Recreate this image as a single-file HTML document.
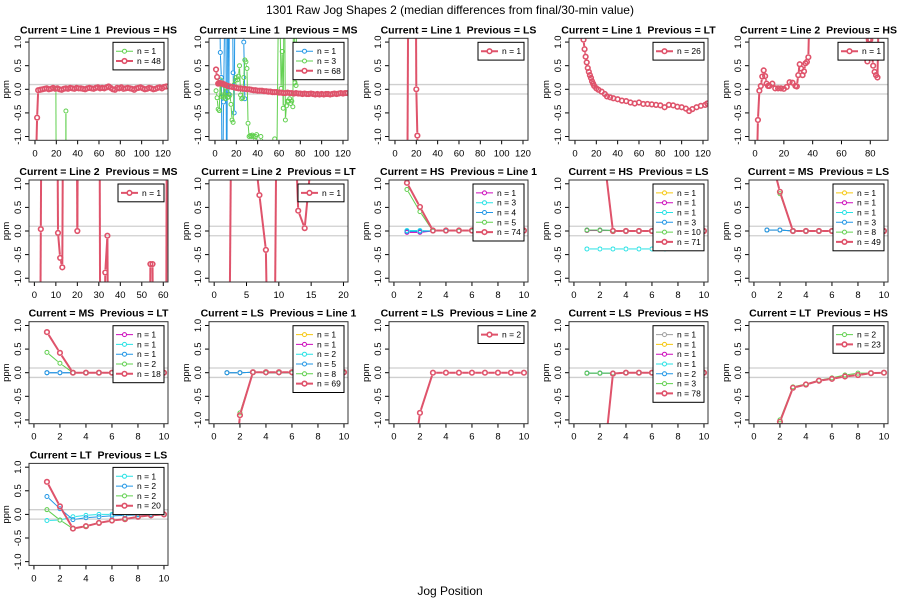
<!DOCTYPE html>
<html><head><meta charset="utf-8"><style>
html,body{margin:0;padding:0;background:#fff;overflow:hidden;width:900px;height:600px;}
svg{display:block;}
svg text{font-family:"Liberation Sans",sans-serif;}
</style></head><body>
<svg id="chart" width="900" height="600" viewBox="0 0 900 600" xmlns="http://www.w3.org/2000/svg" overflow="hidden">
<rect width="900" height="600" fill="#fff"/>
<text x="450" y="14" font-size="12" text-anchor="middle">1301 Raw Jog Shapes 2 (median differences from final/30-min value)</text>
<text x="450" y="595" font-size="12" text-anchor="middle">Jog Position</text>
</svg>
<script>
const RED="#DF536B",GREEN="#61D04F",BLUE="#2297E6",CYAN="#28E2E5",MAG="#CD0BBC",YEL="#F5C710",GRAY="#9E9E9E";
const x10=[1,2,3,4,5,6,7,8,9,10];
// Panel 1: Line 1 / HS
const p1RedX=[1,2,3,5,7,9,11,13,15,17,19,21,23,25,27,29,31,33,35,37,39,41,43,45,47,49,51,53,55,57,59,61,63,65,67,69,71,73,75,77,79,81,83,85,87,89,91,93,95,97,99,101,103,105,107,109,111,113,115,117,119,121,123];
const p1RedY=[-1.5,-0.6,-0.02,-0.01,0,0.01,0.02,0,0.01,0.03,0.01,0.02,0,-0.01,0.01,0.02,0.01,0.03,0.02,0.01,0.03,0.02,0.02,0.01,0,0.02,0.03,0.02,0.01,0.03,0.04,0.02,0.03,0.02,0.04,0.06,0.03,0,-0.01,0.03,0.02,0.04,0.01,0.02,0.03,0.02,0.01,-0.01,0.02,0.03,0.04,0.02,0,0.01,0.03,0.02,0,0.01,0.03,0.04,0.02,0.05,0.06];
const p1GreenX=[19.6,20,28.7,29,29.3];
const p1GreenY=[0,-3,-3,-0.46,-3];
// Panel 2: Line 1 / MS
const p2RedX=[1,2,3,4,5,6,7,8,9,10,12,14,16,18,20,22,24,26,28,30,32,34,36,38,40,42,44,46,48,50,52,54,56,58,60,62,64,66,68,70,72,74,76,78,80,82,84,86,88,90,92,94,96,98,100,102,104,106,108,110,112,114,116,118,120,122,124];
const p2RedY=[0.42,0.26,0.12,0.13,0.13,0.12,0.12,0.11,0.1,0.09,0.07,0.06,0.05,0.04,0.03,0.02,0.02,0.01,0.01,0,0,-0.01,-0.02,-0.02,-0.03,-0.03,-0.03,-0.04,-0.04,-0.05,-0.05,-0.06,-0.06,-0.06,-0.07,-0.07,-0.08,-0.08,-0.07,-0.08,-0.08,-0.09,-0.08,-0.09,-0.09,-0.1,-0.09,-0.1,-0.1,-0.09,-0.1,-0.11,-0.1,-0.11,-0.1,-0.11,-0.1,-0.1,-0.11,-0.1,-0.09,-0.1,-0.09,-0.08,-0.09,-0.08,-0.08];
const p2BlueX=[4,5,6,7,8,10,11,12,13,14,16,17,18,19,26,27,28];
const p2BlueY=[3,0.78,0.25,-3,-0.27,3,-3,3,-0.1,3,3,0.35,-0.5,3,3,1.0,-0.2];
const p2GreenX=[1,2,3,4,5,6,7,8,9,10,11,12,13,14,15,16,17,18,19,20,21,22,23,24,25,26,27,28,29,30,31,32,33,34,35,36,37,38,39,40,41,42,43,55,56,58,60,62,63,64,65,66,67,68,69,70,71,72,73,74,75,76,77,78,79];
const p2GreenY=[-0.03,-0.18,-0.42,-0.45,0.2,-0.15,-0.12,-0.17,0.07,-0.2,-0.05,-0.17,-0.16,-0.12,-0.32,-0.65,-0.7,0.1,0.19,0.25,0.2,0.28,0.5,-0.12,-0.2,-0.18,0.25,0.62,0.58,0.44,-0.72,-1.0,-0.98,-1.0,-0.97,-1.0,-1.5,-1.0,-0.96,-1.5,-1.5,-1.5,-1.0,-1.5,-1.05,-1.5,3,0.02,0.8,-0.4,3,-0.65,-0.35,-0.25,-0.25,-0.2,-0.3,-0.25,-0.37,3,0.14,0.08,3,3,3];
// Panel 3: Line 1 / LS
const p3RedX=[11,13,19,20,21,22];
const p3RedY=[-5,5,5,0,-0.98,-5];
// Panel 4: Line 1 / LT
const p4RedX=[5,8,9,10,11,12,13,14,15,16,17,18,20,22,25,28,30,33,36,40,44,48,52,56,60,64,68,72,76,80,84,88,92,96,100,104,107,110,114,118,122,124];
const p4RedY=[2,1.05,0.85,0.69,0.57,0.45,0.37,0.3,0.24,0.17,0.12,0.07,0.02,-0.01,-0.05,-0.1,-0.15,-0.17,-0.19,-0.21,-0.24,-0.25,-0.28,-0.3,-0.28,-0.31,-0.31,-0.32,-0.33,-0.34,-0.38,-0.33,-0.34,-0.37,-0.38,-0.41,-0.46,-0.42,-0.38,-0.35,-0.33,-0.3];
// Panel 5: Line 2 / HS
const p5RedX=[1,2,3,4,5,6,7,8,9,10,12,14,16,18,20,22,24,26,28,29,30,31,32,33,34,35,36,37,38,77,78,79,80,82,83,84,85,86];
const p5RedY=[-2,-0.65,-0.03,0.07,0.27,0.4,0.28,0.12,0.07,0.07,0.12,0.02,0.02,0.02,0.01,0.05,0.15,0.14,0.07,0.06,0.3,0.53,0.44,0.3,0.38,0.55,0.58,0.68,2,2,0.59,1.05,1.05,0.5,0.37,0.3,0.25,2];
// Panel 6: Line 2 / MS
const p6RedX=[2,3,4,10,11,12,13,14,19,20,21,30,31,33,34,35,53,54,55,56,61,62];
const p6RedY=[-9,0.04,9,9,-0.04,-0.57,-0.77,9,9,0.0,9,9,-9,-0.88,-0.1,-9,-9,-0.7,-0.7,-9,-9,9];
// Panel 7: Line 2 / LT
const p7RedX=[2,3,6,7,8,9,10,12,13,14,15];
const p7RedY=[-9,9,2,0.76,-0.4,-9,9,4,0.43,0.06,1.5];
// Panel 8: HS / Line 1
const p8MagY=[-0.03,-0.03,0,0,0,0,0,0,0,0];
const p8CyanY=[0.01,0.01,0,0,0,0,0,0,0,0];
const p8BlueY=[-0.01,-0.01,0,0,0,0,0,0,0,0];
const p8GreenY=[0.88,0.41,0,0.01,0,0,0,0,0,0];
const p8RedY=[1.02,0.51,0.01,0.01,0.01,0.01,0.01,0.01,0.01,0.01];
// Panel 9: HS / LS
const p9YelY=[0.01,0.01,0.01,0,0,0,0,0,0,0];
const p9CyanY=[-0.38,-0.38,-0.38,-0.38,-0.38,-0.38,-0.38,null,null,null];
const p9BlueY=[0.02,0.02,0.01,0,0,0,0,0,0,0];
const p9RedY=[null,2.3,0,0,0,0,0,0,0,0];
// Panel 10: MS / LS
const p10BlueY=[0.02,0.02,0,0,0,0,0,0,0,0];
const p10GreenY=[null,0.79,0,0,0,0,0,0,0,0];
const p10RedY=[1.9,0.83,0,0,0,0,0,0,0,0];
// Panel 11: MS / LT
const p11MagY=[0,0,0,0,0,0,0,0,0,0];
const p11BlueY=[0,0,0,0,0,0,0,0,0,0];
const p11GreenY=[0.43,0.2,0,0,0,0,0,0,0,0];
const p11RedY=[0.86,0.42,0,0,0,0,0,0,0,0];
// Panel 12: LS / Line 1
const p12CyanY=[0,0,0.01,0,0,0,0,0,0,0];
const p12GreenY=[null,-0.85,0.01,0,0,0,0,0,0,0];
const p12RedY=[-4,-0.9,0.01,0.01,0.01,0.01,0.01,0.01,0.01,0.01];
// Panel 13: LS / Line 2
const p13RedY=[-3,-0.85,0,0,0,0,0,0,0,0];
// Panel 14: LS / HS
const p14MagY=[-0.01,-0.01,-0.01,0,0,0,0,0,0,0];
const p14RedY=[null,-2.67,-0.02,0,0,0,0,0,0,0];
// Panel 15: LT / HS
const p15GreenY=[null,-1.0,-0.3,-0.24,-0.16,-0.11,-0.05,-0.01,-0.01,0];
const p15RedY=[null,-1.04,-0.32,-0.25,-0.17,-0.13,-0.08,-0.05,-0.01,0];
// Panel 16: LT / LS
const p16CyanY=[-0.13,-0.12,-0.05,-0.02,0,0,0,0,0,0];
const p16BlueY=[0.38,0.12,-0.11,-0.07,-0.05,-0.03,-0.02,-0.01,0,0];
const p16GreenY=[0.1,-0.12,-0.3,-0.24,-0.18,-0.13,-0.09,-0.05,-0.02,0];
const p16RedY=[0.69,0.17,-0.3,-0.25,-0.18,-0.13,-0.1,-0.05,-0.02,0];

const X120={d:[-5.6,124.7],t:[0,20,40,60,80,100,120]};
const X10={d:[-0.38,10.31],t:[0,2,4,6,8,10]};
function S(x,y,c,n,red){return {x:x,y:y,c:c,n:n,red:!!red};}
const panels=[
 {cur:"Line 1",prev:"HS",xs:X120,s:[S(p1GreenX,p1GreenY,GREEN,1),S(p1RedX,p1RedY,RED,48,1)]},
 {cur:"Line 1",prev:"MS",xs:X120,s:[S(p2BlueX,p2BlueY,BLUE,1),S(p2GreenX,p2GreenY,GREEN,3),S(p2RedX,p2RedY,RED,68,1)]},
 {cur:"Line 1",prev:"LS",xs:X120,s:[S(p3RedX,p3RedY,RED,1,1)]},
 {cur:"Line 1",prev:"LT",xs:X120,s:[S(p4RedX,p4RedY,RED,26,1)]},
 {cur:"Line 2",prev:"HS",xs:{d:[-4.2,92.3],t:[0,20,40,60,80]},s:[S(p5RedX,p5RedY,RED,1,1)]},
 {cur:"Line 2",prev:"MS",xs:{d:[-2.5,62.2],t:[0,10,20,30,40,50,60]},s:[S(p6RedX,p6RedY,RED,1,1)]},
 {cur:"Line 2",prev:"LT",xs:{d:[-0.8,20.7],t:[0,5,10,15,20]},s:[S(p7RedX,p7RedY,RED,1,1)]},
 {cur:"HS",prev:"Line 1",xs:X10,s:[S(x10,p8MagY,MAG,1),S(x10,p8CyanY,CYAN,3),S(x10,p8BlueY,BLUE,4),S(x10,p8GreenY,GREEN,5),S(x10,p8RedY,RED,74,1)]},
 {cur:"HS",prev:"LS",xs:X10,s:[S(x10,p9YelY,YEL,1),S(x10,p9YelY,MAG,1),S(x10,p9CyanY,CYAN,1),S(x10,p9BlueY,BLUE,3),S(x10,p9BlueY,GREEN,10),S(x10,p9RedY,RED,71,1)]},
 {cur:"MS",prev:"LS",xs:X10,s:[S(x10,p10BlueY,YEL,1),S(x10,p10BlueY,MAG,1),S(x10,p10BlueY,CYAN,1),S(x10,p10BlueY,BLUE,3),S(x10,p10GreenY,GREEN,8),S(x10,p10RedY,RED,49,1)]},
 {cur:"MS",prev:"LT",xs:X10,s:[S(x10,p11MagY,MAG,1),S(x10,p11MagY,CYAN,1),S(x10,p11BlueY,BLUE,1),S(x10,p11GreenY,GREEN,2),S(x10,p11RedY,RED,18,1)]},
 {cur:"LS",prev:"Line 1",xs:X10,s:[S(x10,p12CyanY,YEL,1),S(x10,p12CyanY,MAG,1),S(x10,p12CyanY,CYAN,2),S(x10,p12CyanY,BLUE,5),S(x10,p12GreenY,GREEN,8),S(x10,p12RedY,RED,69,1)]},
 {cur:"LS",prev:"Line 2",xs:X10,s:[S(x10,p13RedY,RED,2,1)]},
 {cur:"LS",prev:"HS",xs:X10,s:[S(x10,p14MagY,GRAY,1),S(x10,p14MagY,YEL,1),S(x10,p14MagY,MAG,1),S(x10,p14MagY,CYAN,1),S(x10,p14MagY,BLUE,2),S(x10,p14MagY,GREEN,3),S(x10,p14RedY,RED,78,1)]},
 {cur:"LT",prev:"HS",xs:X10,s:[S(x10,p15GreenY,GREEN,2),S(x10,p15RedY,RED,23,1)]},
 {cur:"LT",prev:"LS",xs:X10,s:[S(x10,p16CyanY,CYAN,1),S(x10,p16BlueY,BLUE,2),S(x10,p16GreenY,GREEN,2),S(x10,p16RedY,RED,20,1)]}
];
const NS="http://www.w3.org/2000/svg";
const svg=document.getElementById("chart");
function mk(tag,attrs,parent){const e=document.createElementNS(NS,tag);for(const k in attrs)e.setAttribute(k,attrs[k]);(parent||svg).appendChild(e);return e;}
const YD=[-1.08,1.08],W=139,H=102;
panels.forEach((p,i)=>{
 const r=Math.floor(i/5),c=i%5;
 const L=29+180*c,T=38.3+141.7*r,B=T+H,R=L+W;
 const g=mk("g",{});
 
 
 const sx=v=>L+(v-p.xs.d[0])/(p.xs.d[1]-p.xs.d[0])*W;
 const sy=v=>B-(v-YD[0])/(YD[1]-YD[0])*H;
 const cid="clip"+i;
 const cp=mk("clipPath",{id:cid},g);mk("rect",{x:L,y:T,width:W,height:H},cp);
 const t=mk("text",{x:L+W/2,y:T-5,"font-size":"10.5","font-weight":"bold","text-anchor":"middle"},g);
 t.textContent="Current = "+p.cur+"  Previous = "+p.prev;
 
 
 t.style.whiteSpace="pre";
 [0.1,-0.1].forEach(v=>{const l=mk("line",{x1:L,x2:R,y1:sy(v),y2:sy(v),stroke:"#cfcfcf","stroke-width":"1.3"},g);
  
  });
 [-1,-0.5,0,0.5,1].forEach(v=>{const y=sy(v);mk("line",{x1:L-4,x2:L,y1:y,y2:y,stroke:"#000"},g);
  const tt=mk("text",{x:L-8,y:y,"font-size":"9.5","text-anchor":"middle",transform:`rotate(-90 ${L-8} ${y})`},g);
  tt.textContent=v.toFixed(1);
  
  });
 const yl=mk("text",{x:L-20,y:T+H/2,"font-size":"9.5","text-anchor":"middle",transform:`rotate(-90 ${L-20} ${T+H/2})`},g);
 yl.textContent="ppm";
 
 
 const tk=p.xs.t;
 tk.forEach(v=>{const x=sx(v);mk("line",{x1:x,x2:x,y1:B,y2:B+4,stroke:"#000"},g);
  const tt=mk("text",{x:x,y:B+16,"font-size":"9.5","text-anchor":"middle"},g);tt.textContent=v;
  
  });
 const plot=mk("g",{"clip-path":`url(#${cid})`},g);
 p.s.forEach(s=>{
  const sg=mk("g",{},plot);
  
  
  const lw=s.red?2:1,rad=s.red?2.3:2,gap=s.red?3.2:2.8;
  for(let k=0;k<s.x.length-1;k++){
   if(s.y[k]==null||s.y[k+1]==null)continue;
   let x1=sx(s.x[k]),y1=sy(s.y[k]),x2=sx(s.x[k+1]),y2=sy(s.y[k+1]);
   const d=Math.hypot(x2-x1,y2-y1);if(d<=2*gap)continue;
   const ux=(x2-x1)/d,uy=(y2-y1)/d;
   x1+=ux*gap;y1+=uy*gap;x2-=ux*gap;y2-=uy*gap;
   // clip segment to vertical extent of the box
   const lo=T-3,hi=B+3;
   if((y1<lo&&y2<lo)||(y1>hi&&y2>hi))continue;
   const clipY=(xa,ya,xb,yb)=>{ if(ya<lo){const f=(lo-ya)/(yb-ya);return [xa+f*(xb-xa),lo];}
     if(ya>hi){const f=(hi-ya)/(yb-ya);return [xa+f*(xb-xa),hi];} return [xa,ya];};
   const a=clipY(x1,y1,x2,y2),b=clipY(x2,y2,x1,y1);
   mk("line",{x1:a[0],y1:a[1],x2:b[0],y2:b[1],stroke:s.c,"stroke-width":lw},sg);
  }
  s.x.forEach((xv,k)=>{if(s.y[k]==null)return;
   const cy=sy(s.y[k]);if(cy<T-4||cy>B+4)return;
   const pt=mk("circle",{cx:sx(xv),cy:cy,r:rad,fill:"none",stroke:s.c,"stroke-width":s.red?1.6:1},sg);
   
   });
 });
 mk("rect",{x:L,y:T,width:W,height:H,fill:"none",stroke:"#333","stroke-width":"1"},g);
 // legend
 const n=p.s.length,lh=9.8;
 const maxw=Math.max(...p.s.map(s=>String(s.n).length));
 const lw2=41+maxw*5;
 const lhgt=n*lh+8;
 const lx=R-4-lw2,ly=T+4;
 const lg=mk("g",{},g);
 
 
 mk("rect",{x:lx,y:ly,width:lw2,height:lhgt,fill:"#fff",stroke:"#000","stroke-width":"1"},lg);
 p.s.forEach((s,k)=>{const y=ly+4+lh*(k+0.5);
  const e=mk("g",{},lg);
  
  
  mk("line",{x1:lx+3,x2:lx+20,y1:y,y2:y,stroke:s.c,"stroke-width":s.red?2:1},e);
  mk("circle",{cx:lx+11.5,cy:y,r:s.red?2.3:2,fill:"#fff",stroke:s.c,"stroke-width":s.red?1.6:1},e);
  const tt=mk("text",{x:lx+24,y:y+3,"font-size":"8.5"},e);tt.textContent="n = "+s.n;});
});
</script>
</body></html>
